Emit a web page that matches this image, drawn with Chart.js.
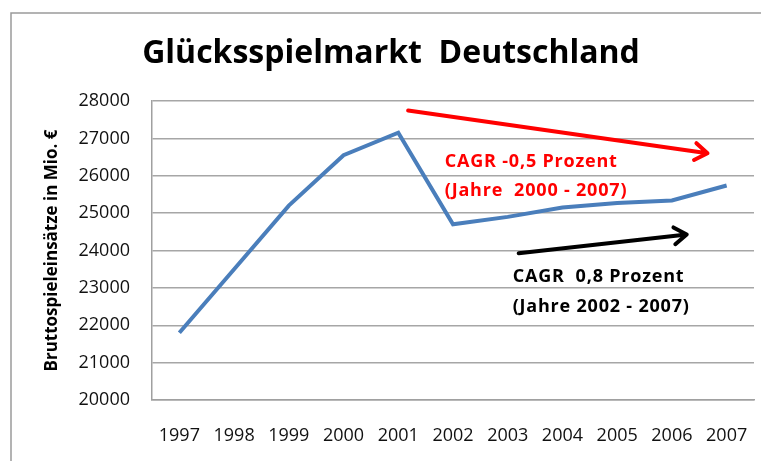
<!DOCTYPE html>
<html>
<head>
<meta charset="utf-8">
<script src="https://cdn.jsdelivr.net/npm/chart.js@4.4.0/dist/chart.umd.min.js"></script>
<style>
  html, body { margin: 0; padding: 0; background: #fff; }
  #wrap { width: 761px; height: 461px; }
</style>
</head>
<body>
<div id="wrap"><canvas id="grafico"></canvas></div>
<script>
// Daten
const jahre = ['1997', '1998', '1999', '2000', '2001', '2002', '2003', '2004', '2005', '2006', '2007'];
const bruttospieleinsaetze = [21800, 23500, 25200, 26550, 27150, 24700, 24900, 25150, 25270, 25340, 25740];
const yTicks = [20000, 21000, 22000, 23000, 24000, 25000, 26000, 27000, 28000];

const titel = 'Glücksspielmarkt  Deutschland';
const yTitel = 'Bruttospieleinsätze in Mio. €';

// Pfeile und Texte in Datenkoordinaten (x = Index der Kategorie)
const pfeile = [
    { von: [4.18, 27745], bis: [9.65, 26600], farbe: '#ff0000' },
    { von: [6.2, 23925], bis: [9.27, 24430], farbe: '#000000' }
];
const texte = [
    { x: 4.85, y: 26222, text: 'CAGR -0,5 Prozent', farbe: '#ff0000' },
    { x: 4.85, y: 25470, text: '(Jahre  2000 - 2007)', farbe: '#ff0000' },
    { x: 6.09, y: 23150, text: 'CAGR  0,8 Prozent', farbe: '#000000' },
    { x: 6.09, y: 22350, text: '(Jahre 2002 - 2007)', farbe: '#000000' }
];

const schrift = '"Open Sans", "DejaVu Sans", sans-serif';

const extras = {
    id: 'extras',
    beforeDraw(chart) {
        const ctx = chart.ctx;
        ctx.save();
        // Rahmen
        ctx.strokeStyle = '#9a9a9a';
        ctx.lineWidth = 1.5;
        ctx.beginPath();
        ctx.moveTo(11, 461);
        ctx.lineTo(11, 13);
        ctx.lineTo(761, 13);
        ctx.stroke();
        // Titel
        ctx.fillStyle = '#000';
        ctx.font = 'bold 32px ' + schrift;
        ctx.textAlign = 'center';
        ctx.textBaseline = 'alphabetic';
        ctx.fillText(titel, 391, 63);
        ctx.restore();
    },
    afterDatasetsDraw(chart) {
        const ctx = chart.ctx;
        const xs = chart.scales.x, ys = chart.scales.y;
        ctx.save();
        ctx.lineCap = 'round';
        ctx.lineJoin = 'round';
        pfeile.forEach(p => {
            const x1 = xs.getPixelForValue(p.von[0]), y1 = ys.getPixelForValue(p.von[1]);
            const x2 = xs.getPixelForValue(p.bis[0]), y2 = ys.getPixelForValue(p.bis[1]);
            const w = Math.atan2(y2 - y1, x2 - x1);
            ctx.strokeStyle = p.farbe;
            ctx.lineWidth = 4;
            ctx.beginPath();
            ctx.moveTo(x1, y1);
            ctx.lineTo(x2, y2);
            ctx.moveTo(x2 - 15 * Math.cos(w - 0.6), y2 - 15 * Math.sin(w - 0.6));
            ctx.lineTo(x2, y2);
            ctx.lineTo(x2 - 15 * Math.cos(w + 0.6), y2 - 15 * Math.sin(w + 0.6));
            ctx.stroke();
        });
        ctx.font = 'bold 18px ' + schrift;
        ctx.letterSpacing = '0.8px';
        ctx.textAlign = 'left';
        ctx.textBaseline = 'alphabetic';
        texte.forEach(t => {
            ctx.fillStyle = t.farbe;
            ctx.fillText(t.text, xs.getPixelForValue(t.x), ys.getPixelForValue(t.y));
        });
        ctx.restore();
    }
};

new Chart(document.getElementById('grafico'), {
    type: 'line',
    data: {
        labels: jahre,
        datasets: [{
            label: yTitel,
            data: bruttospieleinsaetze,
            borderColor: '#4a7ebb',
            borderWidth: 4,
            pointRadius: 0,
            tension: 0,
            fill: false
        }]
    },
    options: {
        responsive: true,
        maintainAspectRatio: false,
        animation: false,
        layout: { padding: { top: 101, right: 7, left: 0, bottom: 0 } },
        plugins: {
            legend: { display: false },
            title: { display: false },
            tooltip: { enabled: false }
        },
        scales: {
            x: {
                offset: true,
                grid: { display: false, drawTicks: false },
                border: { display: true, color: '#a0a0a0', width: 1.5 },
                ticks: { color: '#111', padding: 25, font: { family: schrift, size: 18 }, maxRotation: 0, autoSkip: false },
                afterFit: s => { s.height = 61; s.paddingLeft = 0; s.paddingRight = 0; }
            },
            y: {
                min: 20000,
                max: 28000,
                afterBuildTicks: s => { s.ticks = yTicks.map(v => ({ value: v })); },
                grid: { color: '#a6a6a6', lineWidth: 1.5, drawTicks: false },
                border: { display: true, color: '#a0a0a0', width: 1.5 },
                ticks: { color: '#111', padding: 22, font: { family: schrift, size: 18 }, callback: v => String(v) },
                title: {
                    display: true,
                    text: yTitel,
                    color: '#000',
                    font: { family: schrift, size: 17, weight: 'bold' },
                    padding: { top: 42, bottom: 0 }
                },
                afterFit: s => { s.width = 152; }
            }
        }
    },
    plugins: [extras]
});
</script>
</body>
</html>
